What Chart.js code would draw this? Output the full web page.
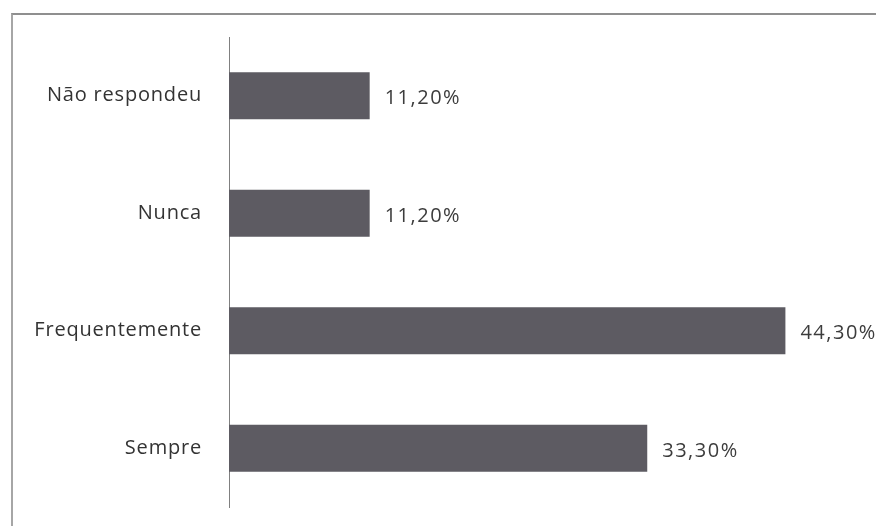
<!DOCTYPE html>
<html>
<head>
<meta charset="utf-8">
<script src="https://cdn.jsdelivr.net/npm/chart.js@4/dist/chart.umd.min.js"></script>
<style>
  html, body { margin: 0; padding: 0; background: #ffffff; }
  #wrap { position: relative; width: 876px; height: 526px; overflow: hidden; }
  #frame {
    position: absolute; left: 11px; top: 13px; width: 900px; height: 600px;
    border-top: 2px solid #8f8f8f; border-left: 2px solid #a6a6a6;
    box-sizing: border-box;
  }
  canvas { position: absolute; left: 0; top: 0; }
</style>
</head>
<body>
<div id="wrap">
  <div id="frame"></div>
  <canvas id="chart" width="876" height="526"></canvas>
</div>
<script>
// Survey answers and their shares (%)
const categories = ['Não respondeu', 'Nunca', 'Frequentemente', 'Sempre'];
const shares = [11.2, 11.2, 44.3, 33.3];
const shareLabels = ['11,20%', '11,20%', '44,30%', '33,30%'];

const FONT = '"Open Sans", "Noto Sans", sans-serif';

// Slightly wider letter spacing for all chart text
const textSpacing = {
  id: 'textSpacing',
  beforeDraw(chart) { chart.ctx.letterSpacing = '0.8px'; },
  afterDraw(chart) { chart.ctx.letterSpacing = '0px'; }
};

// Writes each share just past the end of its bar
const valueLabels = {
  id: 'valueLabels',
  afterDatasetsDraw(chart) {
    const ctx = chart.ctx;
    const meta = chart.getDatasetMeta(0);
    ctx.save();
    ctx.font = '20px ' + FONT;
    ctx.letterSpacing = '1.5px';
    ctx.fillStyle = '#3c3c3c';
    ctx.textAlign = 'left';
    ctx.textBaseline = 'middle';
    meta.data.forEach((bar, i) => {
      ctx.fillText(shareLabels[i], bar.x + 15, bar.y + 3);
    });
    ctx.restore();
  }
};

new Chart(document.getElementById('chart'), {
  type: 'bar',
  data: {
    labels: categories,
    datasets: [{
      data: shares,
      backgroundColor: '#5d5b62',
      borderWidth: 0,
      barPercentage: 0.8,
      categoryPercentage: 0.5
    }]
  },
  options: {
    indexAxis: 'y',
    responsive: false,
    animation: false,
    layout: { padding: { top: 37, bottom: 19, left: 0, right: 19 } },
    plugins: { legend: { display: false }, tooltip: { enabled: false } },
    scales: {
      x: {
        display: false,
        min: 0,
        max: 50
      },
      y: {
        afterFit(scale) { scale.width = 229; },
        // tick marks hidden; their length only spaces the labels off the axis
        grid: { display: false, drawTicks: true, tickLength: 27 },
        border: { display: true, color: '#808080', width: 1 },
        ticks: {
          padding: 0,
          color: '#333333',
          font: { family: FONT, size: 20 }
        }
      }
    }
  },
  plugins: [textSpacing, valueLabels]
});
</script>
</body>
</html>
